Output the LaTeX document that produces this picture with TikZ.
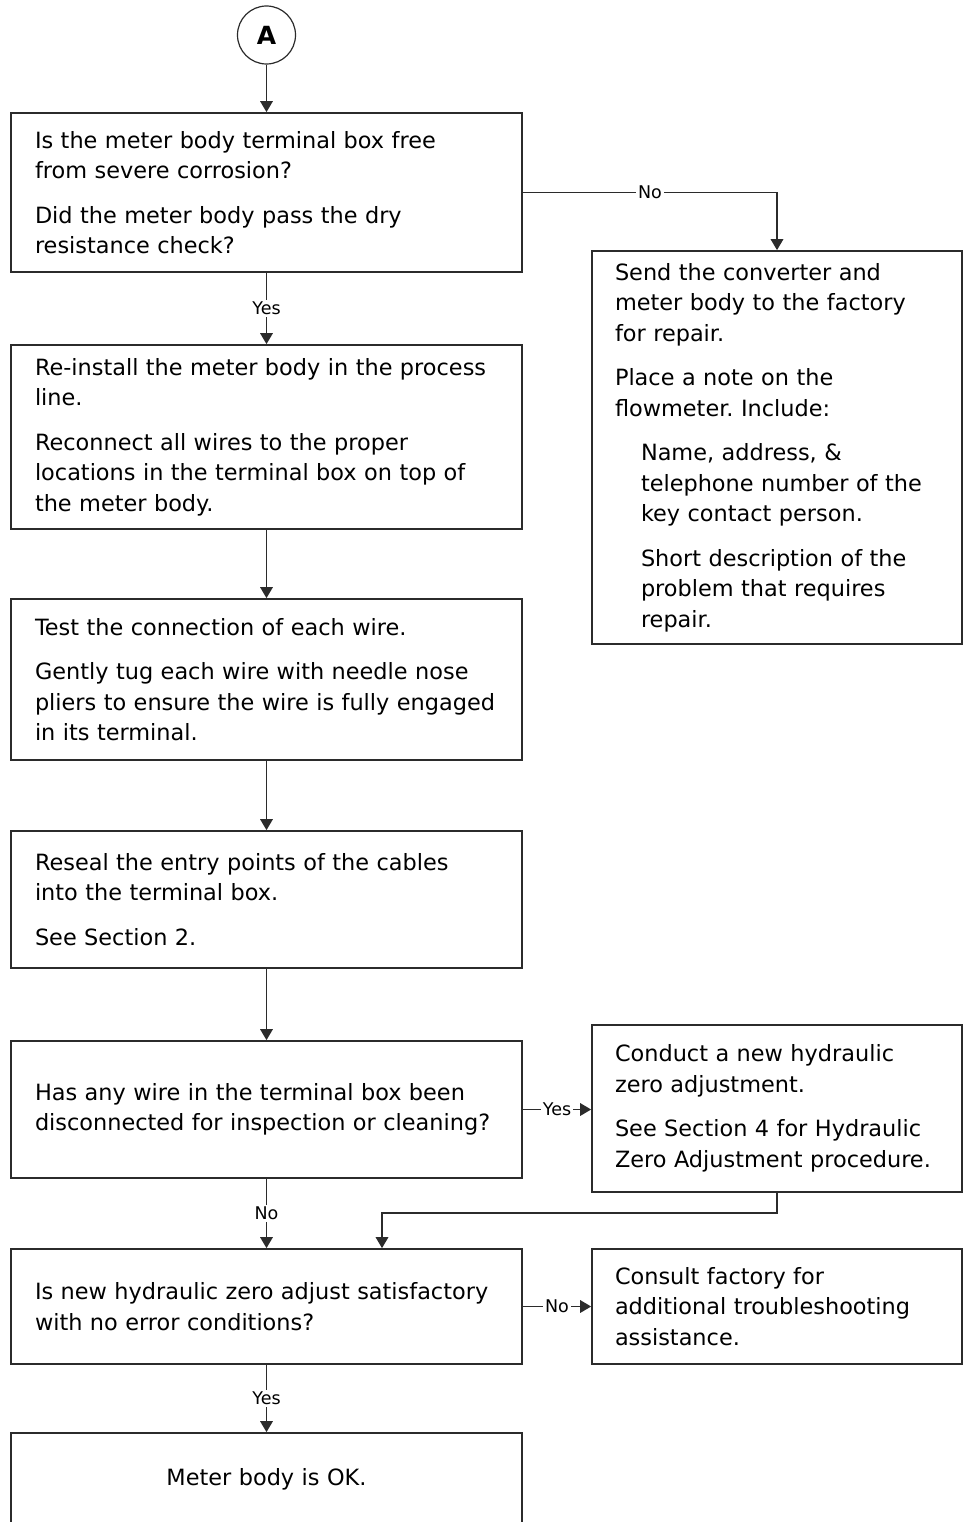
\documentclass[tikz,border=0pt]{standalone}
\usepackage{fontspec}
\setmainfont{DejaVu Sans}
\usepackage{tikz}
\usepackage{xcolor}
\usetikzlibrary{arrows.meta,positioning,calc}
\frenchspacing
\definecolor{mbline}{HTML}{2B2B2B}
\newcommand{\mbind}{\hspace*{26pt}}
\tikzset{
  flowBox/.style={draw=mbline, line width=1.7pt, rectangle, minimum width=511pt, text width=463pt, inner xsep=24pt, inner ysep=0pt, align=left, font=\fontsize{22.4}{30.5}\selectfont},
  sideBox/.style={flowBox, minimum width=370pt, text width=324pt, inner xsep=23pt},
  flowArrow/.style={-{Triangle[length=11pt,width=12.5pt]}, line width=1.7pt, draw=mbline},
  flowLabel/.style={font=\fontsize{17.5}{17.5}\selectfont, fill=white, inner sep=2pt}
}

\begin{document}
\begin{tikzpicture}[x=1pt,y=-1pt]
  \useasboundingbox (0,0) rectangle (964,1522);
  \node[circle, draw=mbline, line width=1.2pt, minimum size=58pt, inner sep=0pt, font=\fontsize{25}{25}\selectfont\bfseries] (circA) at (266.5,35) {A};
  % left column
  \node[flowBox, minimum height=159pt] (chkBox) at (266.5,192.5) {Is the meter body terminal box free\\ from severe corrosion?\\[14pt] Did the meter body pass the dry\\ resistance check?};
  \node[flowBox, minimum height=184pt] (reinst) at (266.5,437) {Re-install the meter body in the process\\ line.\\[14pt] Reconnect all wires to the proper\\ locations in the terminal box on top of\\ the meter body.};
  \node[flowBox, minimum height=161pt] (testConn) at (266.5,679.5) {Test the connection of each wire.\\[14pt] Gently tug each wire with needle nose\\ pliers to ensure the wire is fully engaged\\ in its terminal.};
  \node[flowBox, minimum height=137pt] (reseal) at (266.5,899.5) {Reseal the entry points of the cables\\ into the terminal box.\\[14pt] See Section 2.};
  \node[flowBox, minimum height=137pt] (wireChk) at (266.5,1109.5) {Has any wire in the terminal box been\\ disconnected for inspection or cleaning?};
  \node[flowBox, minimum height=115pt] (zeroOk) at (266.5,1306.5) {Is new hydraulic zero adjust satisfactory\\ with no error conditions?};
  \node[flowBox, minimum height=92pt, align=center] (bodyOk) at (266.5,1479) {Meter body is OK.};
  % right column
  \node[sideBox, minimum height=393pt] (sendFac) at (777,447.5) {Send the converter and\\ meter body to the factory\\ for repair.\\[14pt] Place a note on the\\ flowmeter. Include:\\[14pt] \mbind Name, address, \&\\ \mbind telephone number of the\\ \mbind key contact person.\\[14pt] \mbind Short description of the\\ \mbind problem that requires\\ \mbind repair.};
  \node[sideBox, minimum height=167pt] (newZero) at (777,1108.5) {Conduct a new hydraulic\\ zero adjustment.\\[14pt] See Section 4 for Hydraulic\\ Zero Adjustment procedure.};
  \node[sideBox, minimum height=115pt] (consult) at (777,1306.5) {Consult factory for\\ additional troubleshooting\\ assistance.};
  \coordinate (joinPt) at (382,1213);
  % connectors
  \draw[flowArrow] (circA) -- (chkBox);
  \draw[flowArrow] (chkBox.east) -| node[flowLabel, pos=0.25] {No} (sendFac.north);
  \draw[flowArrow] (chkBox) -- node[flowLabel] {Yes} (reinst);
  \foreach \a/\b in {reinst/testConn, testConn/reseal, reseal/wireChk} {
    \draw[flowArrow] (\a) -- (\b);
  }
  \draw[flowArrow] (wireChk.east) -- node[flowLabel] {Yes} (newZero.west |- wireChk.east);
  \draw[flowArrow] (wireChk) -- node[flowLabel] {No} (zeroOk);
  \draw[flowArrow] (newZero.south) |- (joinPt) -- (joinPt |- zeroOk.north);
  \draw[flowArrow] (zeroOk.east) -- node[flowLabel] {No} (consult.west);
  \draw[flowArrow] (zeroOk) -- node[flowLabel] {Yes} (bodyOk);
\end{tikzpicture}
\end{document}
